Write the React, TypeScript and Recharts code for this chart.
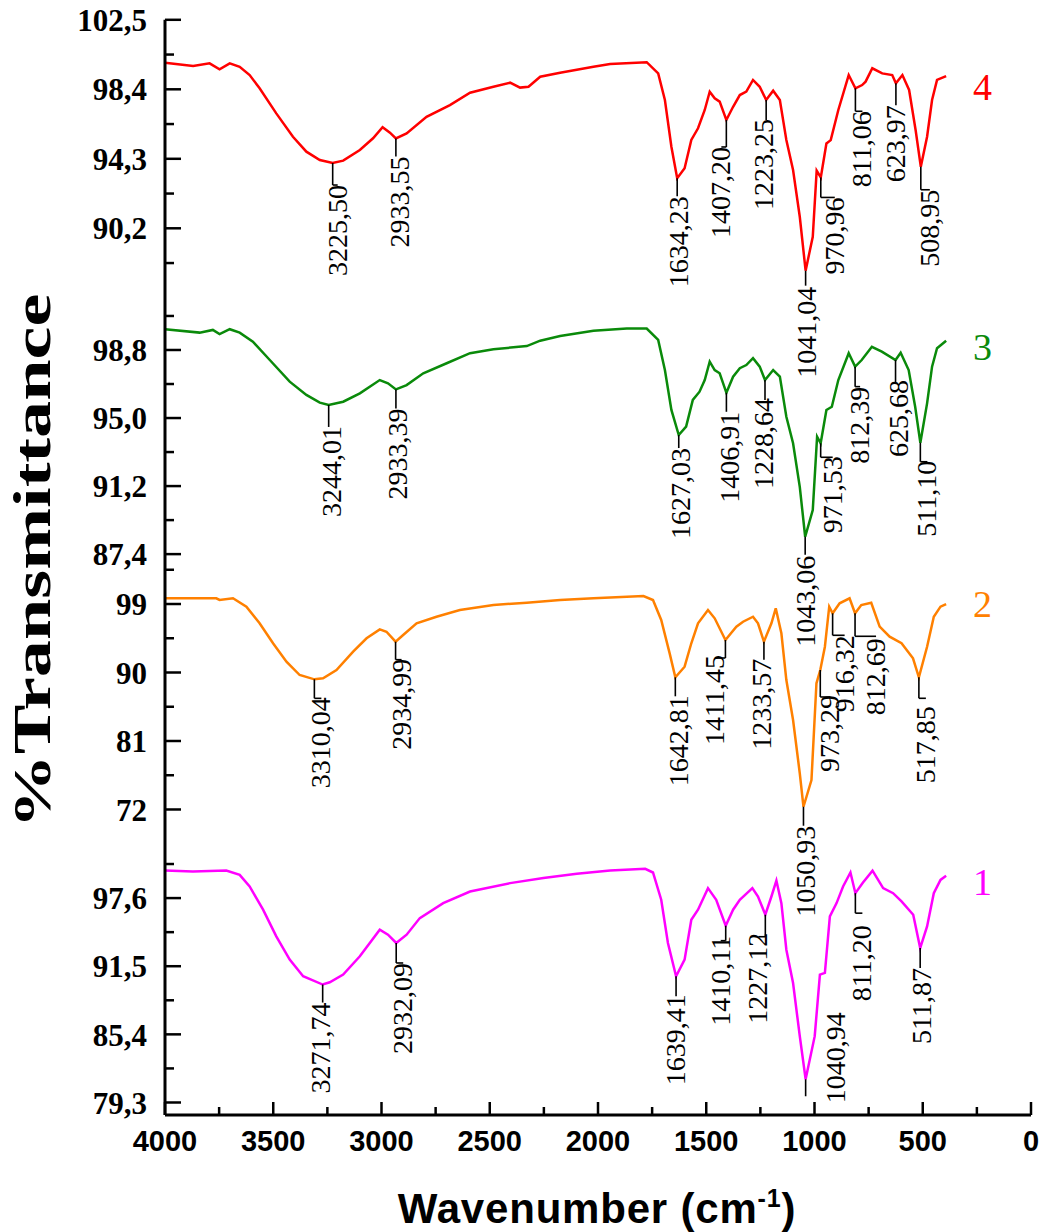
import React from 'react';
import { LineChart, Line, XAxis, YAxis, ReferenceDot, Customized } from 'recharts';

const W = 1048;
const H = 1232;
const PLOT_LEFT = 165;
const AXIS_Y = 1115;
const SERIF = "'Liberation Serif', 'Times New Roman', serif";
const SANS = "'Liberation Sans', Arial, sans-serif";

// ---- spectrum 4 (red) ----
const WN_4 = [4000, 3870, 3794, 3748, 3701, 3655, 3609, 3563, 3486, 3409, 3347, 3285, 3225.5, 3177, 3100, 3039, 2995, 2961, 2933.55, 2884, 2792, 2684, 2591, 2483, 2406, 2360, 2321, 2267, 2175, 2021, 1944, 1775, 1722, 1691, 1661, 1634.23, 1600, 1569, 1538, 1507, 1484, 1461, 1438, 1407.2, 1376, 1345, 1315, 1284, 1253, 1223.25, 1191, 1160, 1130, 1099, 1068, 1041.04, 1008, 990, 970.96, 945, 925, 890, 842, 811.06, 780, 764, 733, 687, 641, 623.97, 594, 563, 533, 508.95, 480, 457, 434, 392];
const T_4 = [99.97, 99.77, 99.93, 99.58, 99.93, 99.73, 99.24, 98.46, 96.98, 95.6, 94.72, 94.23, 94.05, 94.19, 94.82, 95.51, 96.16, 95.84, 95.5, 95.8, 96.78, 97.47, 98.2, 98.55, 98.79, 98.5, 98.55, 99.14, 99.38, 99.73, 99.89, 100.0, 99.34, 97.77, 95.01, 93.15, 93.74, 95.41, 96.1, 97.18, 98.26, 97.87, 97.67, 96.59, 97.37, 98.06, 98.26, 98.95, 98.55, 97.77, 98.32, 97.77, 95.41, 93.64, 90.88, 87.7, 89.7, 93.6, 93.2, 95.2, 95.4, 97.18, 99.24, 98.46, 98.65, 98.85, 99.64, 99.34, 99.24, 98.75, 99.24, 98.36, 96.0, 93.83, 95.6, 97.77, 98.95, 99.18];
const PEAKS_4 = [3225.5, 2933.55, 1634.23, 1407.2, 1223.25, 1041.04, 970.96, 811.06, 623.97, 508.95];

// ---- spectrum 3 (green) ----
const WN_3 = [4000, 3840, 3779, 3748, 3701, 3655, 3594, 3516, 3424, 3347, 3285, 3244.01, 3177, 3100, 3008, 2970, 2933.39, 2884, 2807, 2699, 2591, 2483, 2329, 2267, 2175, 2021, 1867, 1775, 1722, 1691, 1661, 1627.03, 1593, 1562, 1531, 1507, 1484, 1461, 1438, 1406.91, 1376, 1345, 1315, 1284, 1253, 1228.64, 1191, 1160, 1130, 1099, 1068, 1043.06, 1008, 988, 971.53, 945, 920, 890, 842, 812.39, 782, 735, 689, 625.68, 602, 565, 535, 511.1, 480, 457, 434, 392];
const T_3 = [99.96, 99.77, 99.92, 99.69, 99.96, 99.77, 99.26, 98.24, 97.03, 96.29, 95.86, 95.73, 95.91, 96.38, 97.12, 96.94, 96.6, 96.84, 97.5, 98.06, 98.62, 98.84, 99.02, 99.32, 99.58, 99.88, 100.0, 100.0, 99.36, 97.68, 95.45, 94.05, 94.52, 96.01, 96.47, 97.12, 98.15, 97.68, 97.5, 96.41, 97.31, 97.78, 97.96, 98.34, 97.87, 97.12, 97.68, 97.31, 95.07, 93.59, 91.16, 88.37, 89.86, 93.96, 93.59, 95.45, 95.63, 97.12, 98.62, 97.87, 98.24, 98.98, 98.71, 98.24, 98.65, 97.68, 95.63, 93.62, 95.82, 97.87, 98.9, 99.32];
const PEAKS_3 = [3244.01, 2933.39, 1627.03, 1406.91, 1228.64, 1043.06, 971.53, 812.39, 625.68, 511.1];

// ---- spectrum 2 (orange) ----
const WN_2 = [4000, 3763, 3748, 3686, 3624, 3563, 3501, 3439, 3378, 3310.04, 3270, 3208, 3131, 3069, 3008, 2977, 2934.99, 2900, 2838, 2746, 2638, 2483, 2329, 2175, 2021, 1790, 1746, 1708, 1669, 1642.81, 1600, 1569, 1538, 1492, 1461, 1411.45, 1361, 1330, 1284, 1261, 1233.57, 1199, 1179, 1153, 1130, 1099, 1068, 1050.93, 1014, 991, 973.29, 952, 932, 916.32, 884, 838, 812.69, 784, 738, 699, 653, 598, 545, 517.85, 480, 449, 418, 392];
const T_2 = [99.75, 99.75, 99.53, 99.75, 98.65, 96.46, 93.84, 91.42, 89.67, 89.1, 89.24, 90.33, 92.73, 94.49, 95.67, 95.36, 94.05, 94.93, 96.46, 97.33, 98.21, 98.87, 99.17, 99.53, 99.75, 100.05, 99.53, 96.9, 92.52, 89.37, 90.76, 93.84, 96.46, 98.21, 97.12, 94.27, 96.02, 96.67, 97.33, 96.46, 94.05, 96.46, 98.43, 95.15, 89.01, 83.76, 76.75, 72.36, 75.87, 88.58, 90.33, 93.39, 98.65, 97.78, 99.09, 99.75, 97.78, 98.87, 99.17, 96.02, 94.71, 93.84, 91.86, 89.37, 93.39, 97.33, 98.65, 99.0];
const PEAKS_2 = [3310.04, 2934.99, 1642.81, 1411.45, 1233.57, 1050.93, 973.29, 916.32, 812.69, 517.85];

// ---- spectrum 1 (magenta) ----
const WN_1 = [4000, 3871, 3717, 3655, 3609, 3547, 3486, 3424, 3362, 3271.74, 3239, 3177, 3100, 3008, 2970, 2932.09, 2884, 2823, 2715, 2591, 2406, 2252, 2098, 1944, 1782, 1746, 1708, 1677, 1639.41, 1600, 1569, 1538, 1492, 1454, 1410.11, 1376, 1345, 1287, 1261, 1227.12, 1199, 1176, 1153, 1130, 1099, 1068, 1040.94, 999, 975, 952, 929, 898, 868, 834, 811.2, 776, 732, 683, 637, 598, 544, 511.87, 480, 449, 418, 392];
const T_1 = [100.06, 99.98, 100.06, 99.68, 98.64, 96.56, 94.17, 92.09, 90.6, 89.86, 90.06, 90.75, 92.39, 94.77, 94.32, 93.58, 94.32, 95.81, 97.15, 98.19, 98.94, 99.39, 99.77, 100.06, 100.22, 99.89, 97.45, 93.58, 90.6, 92.09, 95.66, 96.56, 98.49, 97.45, 95.13, 96.56, 97.45, 98.49, 97.74, 96.11, 97.74, 99.17, 97.15, 92.98, 90.0, 85.24, 81.38, 85.24, 90.75, 90.9, 95.96, 97.15, 98.64, 99.89, 98.04, 98.99, 100.06, 98.49, 98.04, 97.3, 96.11, 93.13, 95.06, 98.04, 99.23, 99.59];
const PEAKS_1 = [3271.74, 2932.09, 1639.41, 1410.11, 1227.12, 1040.94, 811.2, 511.87];

// y tick labels (major) of each stacked panel
const TICKS_4 = [102.5, 98.4, 94.3, 90.2];
const TICKS_3 = [98.8, 95.0, 91.2, 87.4];
const TICKS_2 = [99, 90, 81, 72];
const TICKS_1 = [97.6, 91.5, 85.4, 79.3];
const X_TICKS = [4000, 3750, 3500, 3250, 3000, 2750, 2500, 2250, 2000, 1750, 1500, 1250, 1000, 750, 500, 250, 0];

// label leader layout per peak: [line length, text x shift, text top]
const MARKS_4 = [[22, 5, 22], [18, 4, 18], [18, 2, 18], [27, -5, 27], [20, -2, 19], [15, 1, 16], [20, 14, 20], [23, 7, 23], [22, 0, 22], [23, 9, 23]];
const MARKS_3 = [[22, 3, 21], [19, 2, 19], [13, 2, 13], [19, 4, 19], [20, -1, 18], [18, 1, 19], [14, 12, 13], [20, 5, 20], [22, 3, 20], [19, 7, 18]];
const MARKS_2 = [[19, 7, 18], [18, 6, 17], [19, 4, 18], [18, -10, 15], [18, -2, 17], [19, 3, 19], [27, 10, 25], [22, 12, 22], [23, 21, 25], [21, 7, 29]];
const MARKS_1 = [[18, -2, 18], [20, 7, 20], [20, 0, 18], [15, -5, 10], [22, -7, 18], [17, 30, -67], [20, 7, 32], [20, 2, 20]];

const PANELS = [
  { id: '4', wn: WN_4, t: T_4, peaks: PEAKS_4, marks: MARKS_4, ticks: TICKS_4, dec: 1, domain: [86.56, 102.5], top: 19.8, bottom: 290, color: '#ff0000', tagY: 100 },
  { id: '3', wn: WN_3, t: T_3, peaks: PEAKS_3, marks: MARKS_3, ticks: TICKS_3, dec: 1, domain: [86.96, 102.15], top: 290, bottom: 562, color: '#0a8a0a', tagY: 360 },
  { id: '2', wn: WN_2, t: T_2, peaks: PEAKS_2, marks: MARKS_2, ticks: TICKS_2, dec: 0, domain: [67.99, 104.52], top: 562, bottom: 840, color: '#ff8000', tagY: 617 },
  { id: '1', wn: WN_1, t: T_1, peaks: PEAKS_1, marks: MARKS_1, ticks: TICKS_1, dec: 1, domain: [78.18, 102.8], top: 840, bottom: AXIS_Y, color: '#ff00ff', tagY: 895 },
];

const fmt = (v: number, dec: number) => v.toFixed(dec).replace('.', ',');

const withMinors = (majors: number[], domain: number[]) => {
  const step = majors[0] - majors[1];
  const all = [...majors, majors[0] + step / 2, ...majors.map((m) => m - step / 2)];
  return all.filter((v) => v >= domain[0] && v <= domain[1]).sort((a, b) => b - a);
};

const YTick = (props: any) => {
  const { y, payload, majors, dec } = props;
  const v = payload.value;
  const major = majors.some((m: number) => Math.abs(m - v) < 1e-6);
  return (
    <g>
      <line x1={PLOT_LEFT} x2={PLOT_LEFT + (major ? 16 : 9)} y1={y} y2={y} stroke="#000" strokeWidth={2.5} />
      {major && (
        <text x={PLOT_LEFT - 18} y={y} dy="0.36em" textAnchor="end" fontFamily={SERIF} fontWeight="bold" fontSize={31} fill="#000">
          {fmt(v, dec)}
        </text>
      )}
    </g>
  );
};

const XTick = (props: any) => {
  const { x, payload } = props;
  const major = payload.value % 500 === 0;
  return (
    <g>
      <line x1={x} x2={x} y1={AXIS_Y} y2={AXIS_Y - (major ? 13 : 8)} stroke="#000" strokeWidth={2.5} />
      {major && (
        <text x={x} y={AXIS_Y + 36} textAnchor="middle" fontFamily={SANS} fontWeight="bold" fontSize={29} fill="#000">
          {payload.value}
        </text>
      )}
    </g>
  );
};

const PeakMark = (props: any) => {
  const { cx, cy, label, mark } = props;
  const [len, dx, top] = mark;
  const jog = top >= 0 && Math.abs(dx) > 4;
  return (
    <g>
      <line x1={cx} y1={cy} x2={cx} y2={cy + len} stroke="#000" strokeWidth={1.6} />
      {jog && <line x1={cx} y1={cy + len} x2={cx + dx} y2={cy + len} stroke="#000" strokeWidth={1.6} />}
      <text
        transform={`translate(${cx + dx + 9},${cy + top}) rotate(-90)`}
        textAnchor="end"
        fontFamily={SERIF}
        fontSize={28}
        fill="#000"
      >
        {label}
      </text>
    </g>
  );
};

const Titles = () => (
  <g>
    <text
      transform="translate(50,561) rotate(-90)"
      textAnchor="middle"
      fontFamily={SERIF}
      fontWeight="bold"
      fontSize={52}
      textLength={535}
      lengthAdjust="spacingAndGlyphs"
      fill="#000"
    >
      %Transmittance
    </text>
    <text x={597} y={1223} textAnchor="middle" fontFamily={SANS} fontWeight="bold" fontSize={42} letterSpacing={0.8} fill="#000">
      Wavenumber (cm
      <tspan dy={-16} fontSize={25}>-1</tspan>
      <tspan dy={16}>)</tspan>
    </text>
  </g>
);

const Panel = ({ p, last }: { p: any; last: boolean }) => {
  const data = p.wn.map((w: number, i: number) => ({ wn: w, t: p.t[i] }));
  const valueAt = (w: number) => p.t[p.wn.indexOf(w)];
  const xAxisH = 60;
  return (
    <div style={{ position: 'absolute', left: 0, top: 0 }}>
      <LineChart
        width={W}
        height={H}
        data={data}
        margin={{ top: p.top, right: 17, left: 105, bottom: last ? H - p.bottom - xAxisH : H - p.bottom }}
      >
        <XAxis
          dataKey="wn"
          type="number"
          domain={[0, 4000]}
          reversed
          ticks={X_TICKS}
          interval={0}
          hide={!last}
          height={xAxisH}
          axisLine={{ stroke: '#000', strokeWidth: 3 }}
          tickLine={false}
          tickSize={0}
          tick={<XTick />}
        />
        <YAxis
          type="number"
          domain={p.domain}
          allowDataOverflow
          ticks={withMinors(p.ticks, p.domain)}
          interval={0}
          width={60}
          axisLine={{ stroke: '#000', strokeWidth: 3 }}
          tickLine={false}
          tickSize={0}
          tick={(tp: any) => <YTick {...tp} majors={p.ticks} dec={p.dec} />}
        />
        <Line
          type="linear"
          dataKey="t"
          stroke={p.color}
          strokeWidth={2.5}
          dot={false}
          isAnimationActive={false}
        />
        {p.peaks.map((w: number, i: number) => (
          <ReferenceDot
            key={w}
            x={w}
            y={valueAt(w)}
            r={0}
            shape={(sp: any) => <PeakMark {...sp} label={fmt(w, 2)} mark={p.marks[i]} />}
          />
        ))}
        <Customized
          component={() => (
            <text x={973} y={p.tagY} fontFamily={SERIF} fontSize={38} fill={p.color}>
              {p.id}
            </text>
          )}
        />
        {last && <Customized component={Titles} />}
      </LineChart>
    </div>
  );
}

export default function App() {
  return (
    <div style={{ position: 'absolute', left: 0, top: 0, width: W, height: H, background: '#fff' }}>
      {PANELS.map((p, i) => (
        <Panel key={p.id} p={p} last={i === PANELS.length - 1} />
      ))}
    </div>
  );
}
